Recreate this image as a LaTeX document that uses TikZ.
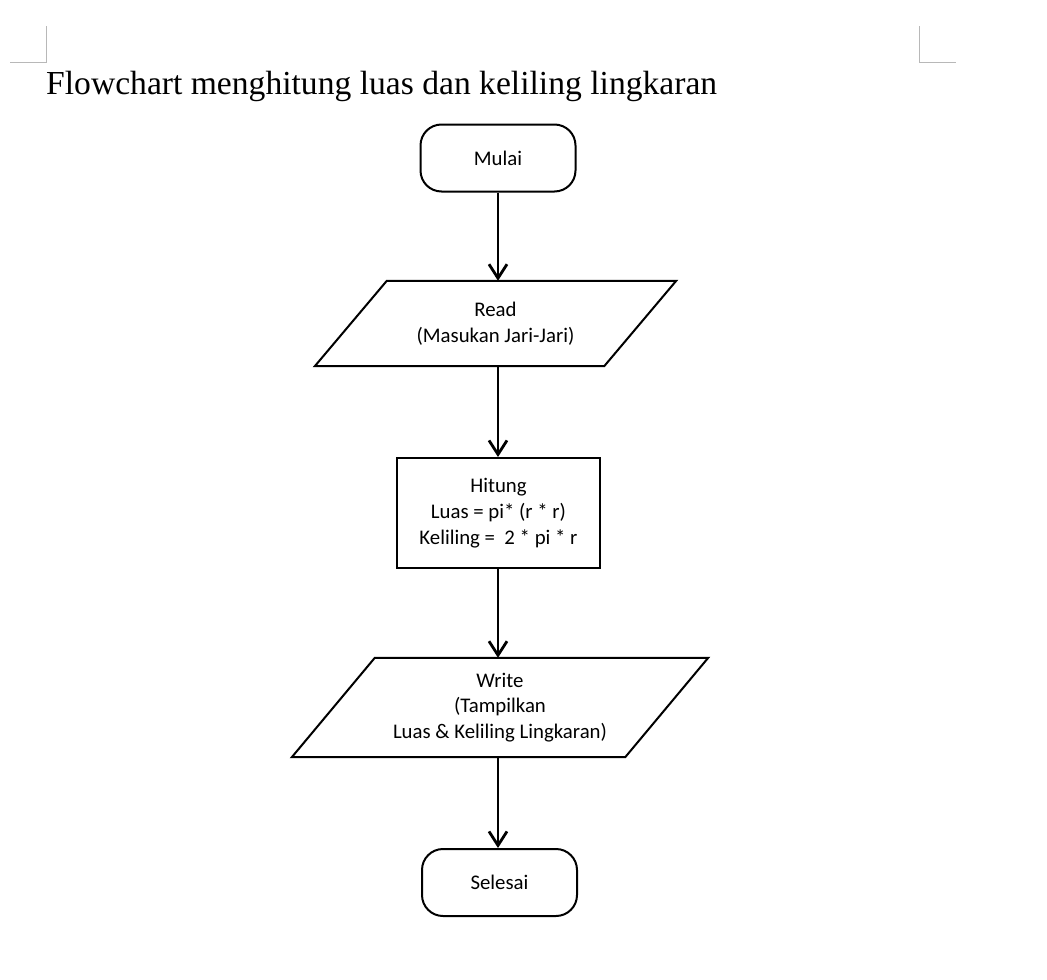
\documentclass[tikz,border=0pt]{standalone}
\usepackage{fontspec}
\setmainfont{Carlito}
\newfontfamily\titlefont{Liberation Serif}
\usetikzlibrary{arrows.meta}

\tikzset{
  terminal/.style={draw, line width=2pt, rounded corners=21pt, minimum width=155pt, minimum height=67pt},
  process/.style={draw, line width=2pt, minimum width=203pt, minimum height=110pt, align=center},
  io/.style={align=center, inner sep=0pt},
  iobox/.style={line width=2pt},
  flow/.style={line width=2.8pt, -{Straight Barb[length=14pt, width=18pt]}},
  cornermark/.style={draw=black!28, line width=1pt},
}

\begin{document}
\begin{tikzpicture}[x=1pt, y=1pt, font=\fontsize{20.8}{25.8}\selectfont]
  \useasboundingbox (0,0) rectangle (1047,-980);
  % page corner marks
  \draw[cornermark] (10,-62) -- (46,-62) -- (46,-26);
  \draw[cornermark] (919,-26) -- (919,-62) -- (956,-62);
  \node[anchor=base west, inner sep=0pt, font=\titlefont\fontsize{33.6}{36}\selectfont] (title) at (46,-94)
    {Flowchart menghitung luas dan keliling lingkaran};

  % flowchart
  \node[terminal] (mulai) at (498,-158) {Mulai};
  \node[io, minimum width=361pt, minimum height=85pt] (read) at (495.5,-323.5)
    {Read\\(Masukan Jari-Jari)};
  \node[process] (hitung) at (498.5,-513)
    {Hitung\\Luas = pi* (r * r)\\Keliling =~~2 * pi * r};
  \node[io, minimum width=416pt, minimum height=99pt] (write) at (500,-707.5)
    {Write\\(Tampilkan\\Luas \& Keliling Lingkaran)};
  \node[terminal] (selesai) at (499.5,-882.5) {Selesai};

  % parallelograms round the io nodes
  \draw[iobox] ([xshift=72pt]read.north west) -- (read.north east)
    -- ([xshift=-72pt]read.south east) -- (read.south west) -- cycle;
  \draw[iobox] ([xshift=83pt]write.north west) -- (write.north east)
    -- ([xshift=-83pt]write.south east) -- (write.south west) -- cycle;

  \draw[flow] (mulai.south) -- (mulai.south |- read.north);
  \draw[flow] (mulai.south |- read.south) -- (mulai.south |- hitung.north);
  \draw[flow] (mulai.south |- hitung.south) -- (mulai.south |- write.north);
  \draw[flow] (mulai.south |- write.south) -- (mulai.south |- selesai.north);
\end{tikzpicture}
\end{document}
